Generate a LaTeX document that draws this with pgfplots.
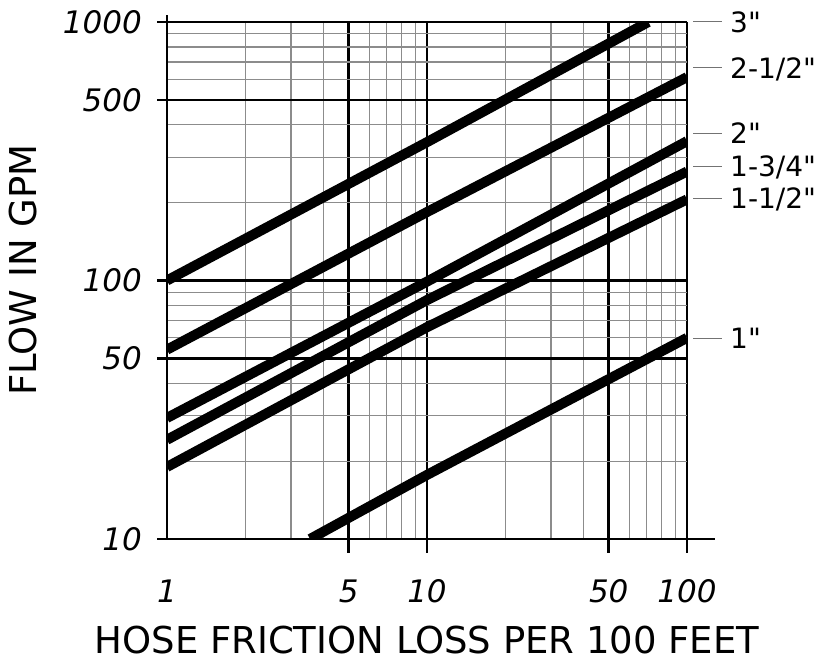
\documentclass[border=0pt]{standalone}
\usepackage{fontspec}
\setmainfont{DejaVu Sans}
\newfontfamily\labfont{DejaVu Sans}[Ligatures=TeXOff]
\usepackage{pgfplots}
\pgfplotsset{compat=1.18}

\newcommand{\tickfont}{\fontsize{31pt}{31pt}\selectfont\itshape}
\newcommand{\titlefont}{\fontsize{37pt}{37pt}\selectfont}
\newcommand{\sizefont}{\labfont\fontsize{28pt}{28pt}\selectfont}

\begin{document}
\begin{tikzpicture}
\begin{axis}[
    name=ax,
    scale only axis,
    width=520pt,
    height=517pt,
    xmode=log,
    ymode=log,
    xmin=1, xmax=100,
    ymin=10, ymax=1000,
    xtick={1,5,10,50,100},
    xticklabels={1,5,10,50,100},
    ytick={10,50,100,500,1000},
    yticklabels={10,50,100,500,1000},
    minor xtick={2,3,4,6,7,8,9,20,30,40,60,70,80,90},
    minor ytick={20,30,40,60,70,80,90,200,300,400,600,700,800,900},
    xmajorgrids=true, ymajorgrids=true,
    xminorgrids=true, yminorgrids=true,
    major grid style={black, line width=2.6pt},
    minor grid style={black!45, line width=1.2pt},
    major tick length=0pt,
    minor tick length=0pt,
    tick pos=left,
    axis line style={draw=none},
    clip mode=individual,
    x tick label style={font=\tickfont, anchor=center, inner sep=0pt, yshift=-52pt},
    y tick label style={font=\tickfont, anchor=east, inner sep=0pt, xshift=-25pt},
    xlabel={HOSE FRICTION LOSS PER 100 FEET},
    ylabel={FLOW IN GPM},
    xlabel style={font=\titlefont, at={(axis description cs:0.5,-0.195)}, anchor=center, inner sep=0pt},
    ylabel style={font=\titlefont, at={(axis description cs:-0.277,0.52)}, anchor=center, inner sep=0pt},
]
% friction-loss curves, values read at x = 1, 10, 100
\addplot[black, line width=10pt, line cap=butt] coordinates {(1,100) (10,343) (71,1000)};
\addplot[black, line width=10pt, line cap=butt] coordinates {(1,54) (10,184) (100,612)};
\addplot[black, line width=10pt, line cap=butt] coordinates {(1,29.4) (10,99) (100,346)};
\addplot[black, line width=10pt, line cap=butt] coordinates {(1,24.2) (10,84) (100,264)};
\addplot[black, line width=10pt, line cap=butt] coordinates {(1,19) (10,66) (100,206)};
\addplot[black, line width=10pt, line cap=butt] coordinates {(3.55,10) (10,17.7) (100,60)};

% axis lines and ticks
\draw[line width=2.8pt] (axis cs:1,10) -- ([xshift=548pt]axis cs:1,10);
\draw[line width=2.8pt] (axis cs:1,10) -- (axis cs:1,1000) -- ([yshift=7pt]axis cs:1,1000);
\draw[line width=2.6pt] (axis cs:1,10) -- ([xshift=-10pt]axis cs:1,10);
\draw[line width=2.6pt] (axis cs:1,50) -- ([xshift=-10pt]axis cs:1,50);
\draw[line width=2.6pt] (axis cs:1,100) -- ([xshift=-10pt]axis cs:1,100);
\draw[line width=2.6pt] (axis cs:1,500) -- ([xshift=-10pt]axis cs:1,500);
\draw[line width=2.6pt] (axis cs:1,1000) -- ([xshift=-10pt]axis cs:1,1000);
\draw[line width=2.6pt] (axis cs:5,10) -- ([yshift=-14pt]axis cs:5,10);
\draw[line width=2.6pt] (axis cs:10,10) -- ([yshift=-14pt]axis cs:10,10);
\draw[line width=2.6pt] (axis cs:50,10) -- ([yshift=-14pt]axis cs:50,10);
\draw[line width=2.6pt] (axis cs:100,10) -- ([yshift=-14pt]axis cs:100,10);

% hose size labels with leader lines
\draw[black!55, line width=1pt] ([xshift=6pt]axis cs:100,1000) -- ([xshift=35pt]axis cs:100,1000);
\draw[black!55, line width=1pt] ([xshift=6pt]axis cs:100,664) -- ([xshift=35pt]axis cs:100,664);
\draw[black!55, line width=1pt] ([xshift=6pt]axis cs:100,371) -- ([xshift=35pt]axis cs:100,371);
\draw[black!55, line width=1pt] ([xshift=6pt]axis cs:100,277) -- ([xshift=35pt]axis cs:100,277);
\draw[black!55, line width=1pt] ([xshift=6pt]axis cs:100,208) -- ([xshift=35pt]axis cs:100,208);
\draw[black!55, line width=1pt] ([xshift=6pt]axis cs:100,59.6) -- ([xshift=35pt]axis cs:100,59.6);
\node[anchor=base west, inner sep=0pt, font=\sizefont, xshift=43pt, yshift=-10.2pt] at (axis cs:100,1000) {3"};
\node[anchor=base west, inner sep=0pt, font=\sizefont, xshift=43pt, yshift=-10.2pt] at (axis cs:100,664) {2-1/2"};
\node[anchor=base west, inner sep=0pt, font=\sizefont, xshift=43pt, yshift=-10.2pt] at (axis cs:100,371) {2"};
\node[anchor=base west, inner sep=0pt, font=\sizefont, xshift=43pt, yshift=-10.2pt] at (axis cs:100,277) {1-3/4"};
\node[anchor=base west, inner sep=0pt, font=\sizefont, xshift=43pt, yshift=-10.2pt] at (axis cs:100,208) {1-1/2"};
\node[anchor=base west, inner sep=0pt, font=\sizefont, xshift=43pt, yshift=-10.2pt] at (axis cs:100,59.6) {1"};
\end{axis}
\pgfresetboundingbox
\path (ax.south west) ++(-167pt,-123pt) rectangle ++(819pt,662pt);
\end{tikzpicture}
\end{document}
